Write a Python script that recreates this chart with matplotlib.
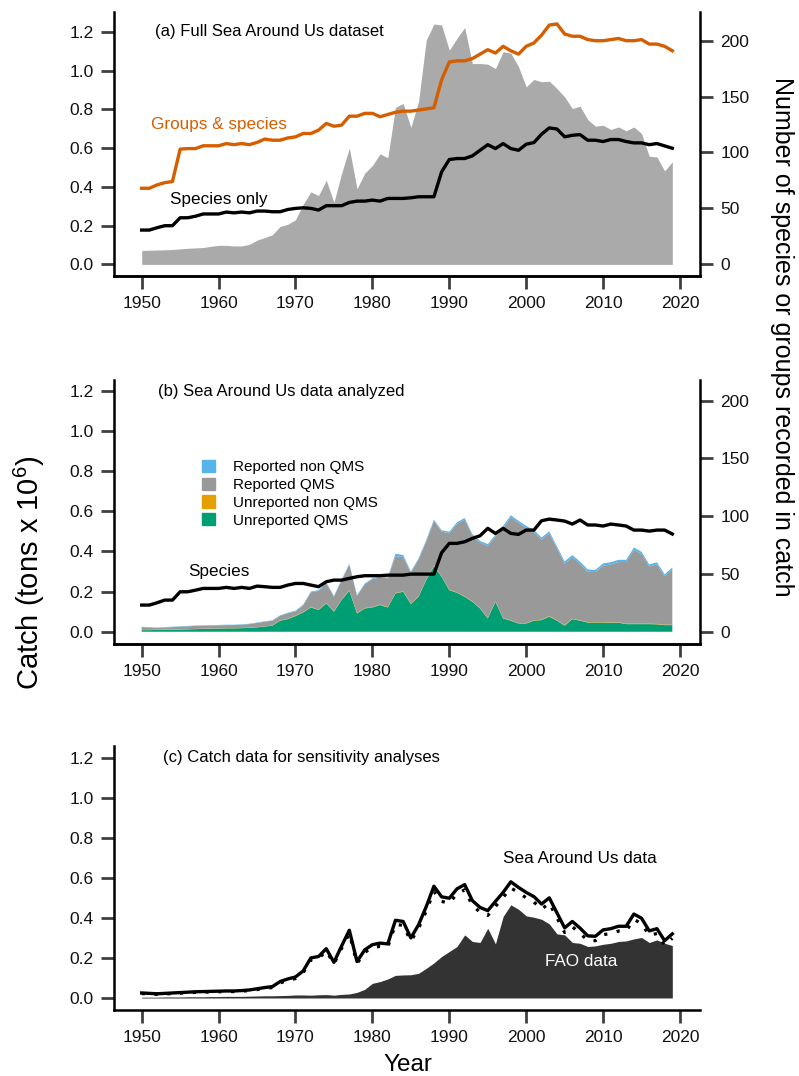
import matplotlib
matplotlib.use('Agg')
import matplotlib.pyplot as plt
from matplotlib.patches import Patch

plt.rcParams['font.family'] = ['Liberation Sans', 'DejaVu Sans']

years = list(range(1950, 2020))

# (a) full Sea Around Us dataset: catch (million tons) and number of taxa
sau_full_catch = [
    0.072, 0.073, 0.074, 0.075, 0.077, 0.080, 0.083, 0.085, 0.087, 0.093,
    0.098, 0.098, 0.095, 0.095, 0.103, 0.125, 0.138, 0.153, 0.196, 0.207,
    0.230, 0.310, 0.374, 0.355, 0.434, 0.320, 0.470, 0.600, 0.390, 0.470,
    0.510, 0.570, 0.550, 0.810, 0.830, 0.706, 0.840, 1.157, 1.240, 1.235,
    1.105, 1.166, 1.222, 1.036, 1.036, 1.033, 1.010, 1.097, 1.090, 1.020,
    0.916, 0.954, 0.942, 0.945, 0.907, 0.864, 0.804, 0.816, 0.747, 0.713,
    0.718, 0.696, 0.709, 0.689, 0.709, 0.675, 0.558, 0.554, 0.482, 0.529]
groups_and_species = [
    68, 68, 71, 73, 74, 103, 103.5, 103.5, 106, 106,
    106, 108, 107, 108, 107, 109, 112, 111, 111, 113,
    114, 117, 117, 120, 126, 123.5, 124.5, 132.5, 132.5, 135,
    135, 132, 134, 136, 137, 137, 138, 139, 140, 165,
    181, 182, 182, 184, 188, 192, 189, 195, 191, 188,
    195, 198, 205, 214, 215, 206, 204, 204, 201, 200,
    200, 201, 202, 200, 200, 201, 197, 197, 195, 191]
species_only = [
    30.6, 30.6, 32.7, 34.5, 34.5, 41.6, 41.6, 43, 45, 45,
    45, 46.7, 46, 46.7, 46, 47.6, 47.6, 47, 47, 49,
    50, 50.5, 50, 48.5, 52.4, 52.4, 52.4, 55.3, 56.5, 56.5,
    57.4, 56.5, 58.9, 58.9, 58.9, 59.5, 60.4, 60.4, 60.4, 82.7,
    93.7, 94.6, 94.6, 97, 102, 107, 103.5, 108, 103.5, 102,
    107.4, 108.9, 116.4, 122, 121, 114, 115.4, 116, 111, 111,
    109.8, 111.6, 111.6, 109.8, 108.6, 108.6, 107, 108, 105.9, 103.8]

# (b) Sea Around Us data analyzed
sau_analyzed_total = [
    0.025, 0.023, 0.021, 0.023, 0.025, 0.027, 0.029, 0.031, 0.032, 0.033,
    0.034, 0.035, 0.035, 0.037, 0.040, 0.046, 0.052, 0.057, 0.082, 0.095,
    0.105, 0.135, 0.200, 0.207, 0.246, 0.178, 0.260, 0.338, 0.182, 0.240,
    0.266, 0.274, 0.270, 0.388, 0.382, 0.300, 0.365, 0.456, 0.558, 0.505,
    0.498, 0.545, 0.566, 0.486, 0.452, 0.436, 0.482, 0.527, 0.580, 0.552,
    0.527, 0.506, 0.469, 0.500, 0.425, 0.350, 0.382, 0.349, 0.310, 0.308,
    0.340, 0.346, 0.358, 0.358, 0.419, 0.398, 0.335, 0.346, 0.286, 0.320]
unreported_qms = [
    0.008, 0.008, 0.009, 0.010, 0.010, 0.011, 0.012, 0.013, 0.014, 0.015,
    0.016, 0.017, 0.017, 0.018, 0.019, 0.022, 0.026, 0.030, 0.055, 0.063,
    0.078, 0.096, 0.121, 0.108, 0.141, 0.100, 0.158, 0.204, 0.091, 0.116,
    0.121, 0.133, 0.121, 0.191, 0.199, 0.138, 0.174, 0.257, 0.326, 0.274,
    0.207, 0.194, 0.174, 0.149, 0.116, 0.066, 0.149, 0.066, 0.055, 0.041,
    0.041, 0.055, 0.058, 0.075, 0.055, 0.030, 0.063, 0.055, 0.046, 0.046,
    0.046, 0.045, 0.045, 0.038, 0.038, 0.038, 0.038, 0.037, 0.033, 0.033]
unreported_non_qms = [
    0.001, 0.001, 0.001, 0.001, 0.001, 0.001, 0.001, 0.001, 0.001, 0.001,
    0.001, 0.001, 0.001, 0.001, 0.001, 0.001, 0.001, 0.001, 0.002, 0.002,
    0.002, 0.002, 0.002, 0.002, 0.002, 0.002, 0.002, 0.002, 0.002, 0.002,
    0.002, 0.002, 0.002, 0.002, 0.002, 0.002, 0.002, 0.002, 0.002, 0.002,
    0.002, 0.002, 0.002, 0.002, 0.002, 0.002, 0.002, 0.002, 0.002, 0.002,
    0.002, 0.002, 0.002, 0.003, 0.002, 0.002, 0.002, 0.002, 0.002, 0.002,
    0.002, 0.002, 0.002, 0.002, 0.002, 0.002, 0.002, 0.002, 0.002, 0.002]
reported_non_qms = [
    0.002, 0.002, 0.002, 0.002, 0.002, 0.002, 0.002, 0.002, 0.002, 0.002,
    0.002, 0.002, 0.002, 0.002, 0.002, 0.002, 0.002, 0.002, 0.003, 0.003,
    0.004, 0.004, 0.004, 0.004, 0.004, 0.004, 0.004, 0.004, 0.004, 0.004,
    0.004, 0.004, 0.004, 0.012, 0.010, 0.006, 0.006, 0.006, 0.006, 0.006,
    0.008, 0.008, 0.008, 0.008, 0.008, 0.009, 0.009, 0.010, 0.010, 0.010,
    0.010, 0.010, 0.010, 0.010, 0.010, 0.011, 0.011, 0.011, 0.011, 0.011,
    0.011, 0.011, 0.011, 0.011, 0.012, 0.011, 0.010, 0.010, 0.010, 0.010]
species_analyzed = [
    23.1, 23.1, 25.1, 27.4, 27.4, 34.6, 34.6, 36, 37.5, 37.5,
    37.5, 38.4, 37.5, 38.4, 37.5, 39.5, 39, 38.4, 38.4, 40.4,
    41.8, 41.8, 40.4, 39, 43.3, 44.7, 44.7, 46.2, 47.6, 48.5,
    48.5, 48.5, 49, 49, 49, 49.9, 49.9, 49.9, 49.9, 68.4,
    76.5, 76.5, 77.9, 80.8, 83.1, 89.5, 85.1, 89.5, 85.1, 84.3,
    88, 88, 96.1, 97.5, 96.7, 95.8, 93.2, 96.7, 92.4, 92.4,
    91.5, 93.2, 92.4, 91.5, 88, 88, 87.1, 88, 88, 84.6]

# (c) catch data for sensitivity analyses
sau_alternative = [
    0.022, 0.020, 0.018, 0.020, 0.022, 0.024, 0.026, 0.028, 0.029, 0.030,
    0.031, 0.032, 0.032, 0.034, 0.037, 0.042, 0.048, 0.052, 0.075, 0.088,
    0.097, 0.126, 0.190, 0.197, 0.235, 0.170, 0.248, 0.322, 0.172, 0.228,
    0.250, 0.258, 0.254, 0.368, 0.362, 0.284, 0.347, 0.434, 0.532, 0.482,
    0.474, 0.520, 0.540, 0.462, 0.428, 0.412, 0.457, 0.502, 0.550, 0.525,
    0.500, 0.479, 0.443, 0.474, 0.400, 0.327, 0.356, 0.322, 0.288, 0.286,
    0.316, 0.322, 0.334, 0.335, 0.392, 0.372, 0.312, 0.322, 0.264, 0.298]
fao_catch = [
    0.004, 0.004, 0.004, 0.005, 0.005, 0.005, 0.006, 0.006, 0.006, 0.007,
    0.007, 0.008, 0.008, 0.008, 0.009, 0.010, 0.011, 0.011, 0.012, 0.013,
    0.015, 0.015, 0.014, 0.016, 0.017, 0.014, 0.018, 0.020, 0.028, 0.043,
    0.073, 0.082, 0.095, 0.113, 0.115, 0.116, 0.123, 0.148, 0.175, 0.207,
    0.232, 0.257, 0.315, 0.282, 0.277, 0.348, 0.270, 0.407, 0.465, 0.443,
    0.410, 0.403, 0.393, 0.370, 0.320, 0.315, 0.277, 0.273, 0.257, 0.260,
    0.268, 0.273, 0.282, 0.285, 0.295, 0.302, 0.277, 0.290, 0.273, 0.262]

reported_qms = [t - g - o - b for t, g, o, b in
                zip(sau_analyzed_total, unreported_qms, unreported_non_qms, reported_non_qms)]

ORANGE = '#D55E00'
TICK_COLOR = '#404040'
W, H = 799, 1076


def style_axis(ax, ylim, right=False):
    ax.set_xlim(1946.4, 2022.6)
    ax.set_ylim(*ylim)
    ax.spines['top'].set_visible(False)
    for side in ['left', 'right', 'bottom']:
        ax.spines[side].set_linewidth(1.8)
        ax.spines[side].set_color('black')
    ax.tick_params(direction='out', length=9.5, width=2.0, color=TICK_COLOR,
                   labelsize=12.5, pad=5, labelcolor='#111111')
    ax.set_xticks(range(1950, 2021, 10))
    if not right:
        ax.spines['right'].set_visible(False)
        ax.set_yticks([0.0, 0.2, 0.4, 0.6, 0.8, 1.0, 1.2])
        ax.set_yticklabels(['0.0', '0.2', '0.4', '0.6', '0.8', '1.0', '1.2'])


def add_axes(top_px, bottom_px):
    return fig.add_axes([114 / W, 1 - bottom_px / H, 586 / W, (bottom_px - top_px) / H])


fig = plt.figure(figsize=(W / 100, H / 100), dpi=100)

# ---- (a) full dataset
ax_a = add_axes(12, 276)
ax_a.fill_between(years, 0, sau_full_catch, color='#AAAAAA', lw=0)
style_axis(ax_a, (-0.060, 1.302))
ax_a.text(1951.7, 1.20, '(a) Full Sea Around Us dataset', fontsize=12, va='center', ha='left')
ax_a.text(1960.0, 0.724, 'Groups & species', color=ORANGE, fontsize=12.3, va='center', ha='center')
ax_a.text(1960.0, 0.337, 'Species only', fontsize=12.3, va='center', ha='center')

ax_a2 = ax_a.twinx()
ax_a2.plot(years, groups_and_species, color=ORANGE, lw=2.4)
ax_a2.plot(years, species_only, color='black', lw=2.4)
style_axis(ax_a2, (-10.5, 225.7), right=True)
ax_a2.set_yticks([0, 50, 100, 150, 200])
ax_a2.spines['left'].set_visible(False)

# ---- (b) data analyzed
ax_b = add_axes(380, 644)
ax_b.stackplot(years, unreported_qms, unreported_non_qms, reported_qms, reported_non_qms,
               colors=['#009E73', '#E69F00', '#999999', '#56B4E9'], lw=0)
style_axis(ax_b, (-0.061, 1.253))
ax_b.text(1952.1, 1.194, '(b) Sea Around Us data analyzed', fontsize=12, va='center', ha='left')
ax_b.text(1960.0, 0.30, 'Species', fontsize=12.3, va='center', ha='center')
handles = [Patch(color='#56B4E9'), Patch(color='#999999'),
           Patch(color='#E69F00'), Patch(color='#009E73')]
labels = ['Reported non QMS', 'Reported QMS', 'Unreported non QMS', 'Unreported QMS']
ax_b.legend(handles, labels, loc='upper left', bbox_to_anchor=(0.150, 0.697),
            frameon=False, fontsize=11, handlelength=0.85, handleheight=0.85,
            handletextpad=1.2, labelspacing=0.22, borderpad=0, borderaxespad=0)

ax_b2 = ax_b.twinx()
ax_b2.plot(years, species_analyzed, color='black', lw=2.4)
style_axis(ax_b2, (-10.6, 217.9), right=True)
ax_b2.set_yticks([0, 50, 100, 150, 200])
ax_b2.spines['left'].set_visible(False)

# ---- (c) sensitivity analyses
ax_c = add_axes(746, 1010)
ax_c.fill_between(years, 0, fao_catch, color='#333333', lw=0)
ax_c.plot(years, sau_alternative, color='black', lw=2.3, linestyle=(0, (1, 3)))
ax_c.plot(years, sau_analyzed_total, color='black', lw=2.4)
style_axis(ax_c, (-0.060, 1.258))
ax_c.text(1952.8, 1.203, '(c) Catch data for sensitivity analyses', fontsize=12, va='center', ha='left')
ax_c.text(2007.0, 0.694, 'Sea Around Us data', fontsize=12.3, va='center', ha='center')
ax_c.text(2007.1, 0.18, 'FAO data', fontsize=12.3, color='white', va='center', ha='center')

# ---- shared labels
fig.text(29 / W, 1 - 573 / H, r'Catch (tons x 10$^{\mathregular{6}}$)', rotation=90,
         fontsize=21, va='center', ha='center')
fig.text(782 / W, 1 - 337 / H, 'Number of species or groups recorded in catch', rotation=270,
         fontsize=18, va='center', ha='center')
fig.text(408 / W, 1 - 1071 / H, 'Year', fontsize=17.5, va='baseline', ha='center')

fig.savefig('out.png', dpi=100)
